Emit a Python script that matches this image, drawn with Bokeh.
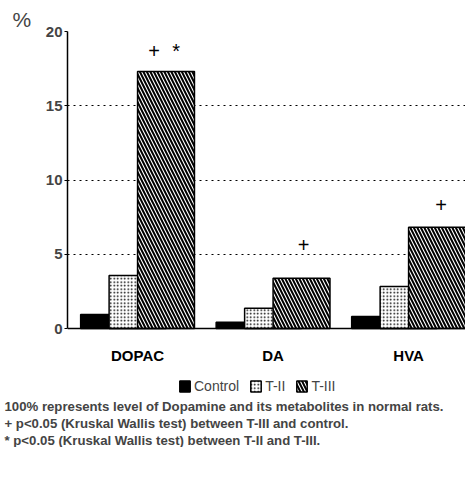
from bokeh.plotting import figure
from bokeh.models import Range1d, FixedTicker, Legend, LegendItem, Title, Span
from bokeh.core.properties import value
from bokeh.embed import file_html
from bokeh.resources import INLINE

categories = ["DOPAC", "DA", "HVA"]
control = [0.95, 0.42, 0.81]
t2 = [3.57, 1.37, 2.83]
t3 = [17.3, 3.39, 6.82]
y_ticks = [0, 5, 10, 15, 20]
grid_ticks = [5, 10, 15, 20]
sig_marks = ["+", "*", "+", "+"]
sig_group = [0, 0, 1, 2]
sig_y = [18.7, 18.7, 5.65, 8.3]
sig_dx = [-12, 10, 2, 4]
series_names = ["Control", "T-II", "T-III"]
notes = [
    "100% represents level of Dopamine and its metabolites in normal rats.",
    "+  p<0.05 (Kruskal Wallis test) between T-III and control.",
    "*  p<0.05 (Kruskal Wallis test) between T-II and T-III.",
]

FONT = "Liberation Sans"
off = 0.21
bw = 0.42

styles = [
    dict(fill_color="black", line_color="black", line_width=1.5),
    dict(fill_color="white", line_color="black", line_width=1.5,
         hatch_pattern="dot", hatch_color="black", hatch_scale=3.5, hatch_weight=1),
    dict(fill_color="white", line_color="black", line_width=1.5,
         hatch_pattern="left_diagonal_line", hatch_color="black",
         hatch_scale=7, hatch_weight=2),
]

p = figure(frame_width=398, frame_height=365, output_backend="svg", toolbar_location=None,
           x_range=Range1d(-0.517, 2.42), y_range=Range1d(20 - 365 / 14.85, 20),
           x_axis_type=None,
           min_border_left=67, min_border_right=0, min_border_top=31,
           min_border_bottom=0)
p.outline_line_color = None
p.background_fill_color = "white"
p.border_fill_color = "white"

idx = list(range(len(categories)))
rs = []
for offs, vals, st in zip([-off, 0, off], [control, t2, t3], styles):
    rs.append(p.vbar(x=[i + offs for i in idx], top=vals, width=bw, bottom=0, **st))

p.add_layout(Span(location=0, dimension="width", line_color="black", line_width=1.5))

p.text(x=[g + off for g in sig_group], y=sig_y, text=sig_marks, x_offset=sig_dx,
       text_align="center", text_baseline="middle", text_font=value(FONT),
       text_font_size="20px", text_color="black")

# category labels under the baseline
p.text(x=idx, y=[-1.82] * len(idx), text=categories, text_align="center",
       text_baseline="middle", text_font=value(FONT), text_font_style="bold",
       text_font_size="15px", text_color="black")

p.xgrid.visible = False
p.ygrid.ticker = FixedTicker(ticks=grid_ticks)
p.ygrid.grid_line_color = "black"
p.ygrid.grid_line_dash = "2 4"
p.ygrid.grid_line_width = 1

p.yaxis.ticker = FixedTicker(ticks=y_ticks)
p.yaxis.bounds = (0, 20)
p.yaxis.axis_line_width = 1.5
p.yaxis.major_tick_out = 3
p.yaxis.major_tick_in = 0
p.yaxis.minor_tick_line_color = None
p.yaxis.major_label_text_font = FONT
p.yaxis.major_label_text_font_style = "bold"
p.yaxis.major_label_text_font_size = "15px"
p.yaxis.major_label_standoff = 2

p.add_layout(Title(text="%", align="left", offset=-55, text_font=FONT,
                   text_font_size="21px", text_font_style="normal", standoff=1), "above")

legend = Legend(items=[LegendItem(label=n, renderers=[r]) for n, r in zip(series_names, rs)],
                orientation="horizontal", location=(111, 2))
legend.label_text_font = FONT
legend.label_text_font_size = "14px"
legend.glyph_width = 13
legend.glyph_height = 14
legend.label_standoff = 3
legend.spacing = 10
legend.padding = 0
legend.margin = 0
legend.border_line_color = None
legend.background_fill_alpha = 0
p.add_layout(legend, "center")

for t in notes:
    p.add_layout(Title(text=t, align="left", offset=-63, text_font=FONT,
                       text_font_size="13.2px", text_font_style="bold", standoff=0), "below")

open("out.html", "w").write(file_html(p, INLINE))
